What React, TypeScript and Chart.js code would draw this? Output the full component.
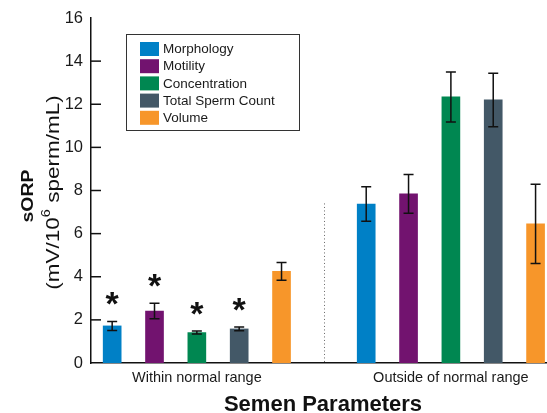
import React, { useEffect, useRef } from "react";
import { Chart, registerables } from "chart.js";

Chart.register(...registerables);

const groupLabels = ["Within normal range", "Outside of normal range"];
const seriesNames = ["Morphology", "Motility", "Concentration", "Total Sperm Count", "Volume"];
const seriesColors = ["#0080C6", "#72136F", "#008751", "#435867", "#F7962A"];

const morphology = [1.72, 7.37];
const motility = [2.41, 7.84];
const concentration = [1.41, 12.34];
const totalSpermCount = [1.58, 12.2];
const volume = [4.25, 6.45];

const morphologyErr = [0.21, 0.8];
const motilityErr = [0.36, 0.9];
const concentrationErr = [0.07, 1.16];
const totalSpermCountErr = [0.09, 1.24];
const volumeErr = [0.41, 1.84];

// asterisk (significant) marks shown on the "within normal range" group
const significant = [true, true, true, true, false];

const yTicks = [0, 2, 4, 6, 8, 10, 12, 14, 16];
const dividerTop = 7.4;

const seriesValues = [morphology, motility, concentration, totalSpermCount, volume];
const seriesErrors = [morphologyErr, motilityErr, concentrationErr, totalSpermCountErr, volumeErr];

const FONT = "'Liberation Sans', Arial, Helvetica, sans-serif";
const GROUP_STRIDE = seriesNames.length + 1;

const extrasPlugin = {
  id: "extras",
  afterDatasetsDraw(chart: any) {
    const { ctx, chartArea } = chart;
    const x = chart.scales.x;
    const y = chart.scales.y;
    ctx.save();
    // error bars + asterisks
    chart.data.datasets.forEach((ds: any, di: number) => {
      const meta = chart.getDatasetMeta(di);
      ds.data.forEach((pt: any, i: number) => {
        const el = meta.data[i];
        const cx = el.x;
        const e = seriesErrors[di][i];
        const yt = y.getPixelForValue(pt.y + e);
        const yb = y.getPixelForValue(pt.y - e);
        ctx.strokeStyle = "#111";
        ctx.lineWidth = 1.5;
        ctx.beginPath();
        ctx.moveTo(cx, yt);
        ctx.lineTo(cx, yb);
        ctx.moveTo(cx - 5, yt);
        ctx.lineTo(cx + 5, yt);
        ctx.moveTo(cx - 5, yb);
        ctx.lineTo(cx + 5, yb);
        ctx.stroke();
        if (i === 0 && significant[di]) {
          const fs = 34;
          ctx.fillStyle = "#111";
          ctx.font = `bold ${fs}px ${FONT}`;
          ctx.textAlign = "center";
          ctx.textBaseline = "alphabetic";
          const centerY = yt - 23;
          ctx.fillText("*", cx, centerY + 0.5 * fs);
        }
      });
    });
    // divider (dotted)
    const dx = Math.round(x.getPixelForValue(seriesNames.length)) + 0.5;
    ctx.strokeStyle = "#666";
    ctx.lineWidth = 1;
    ctx.setLineDash([1, 2.5]);
    ctx.beginPath();
    ctx.moveTo(dx, y.getPixelForValue(dividerTop));
    ctx.lineTo(dx, chartArea.bottom);
    ctx.stroke();
    ctx.setLineDash([]);
    // inward y ticks
    ctx.strokeStyle = "#111";
    ctx.lineWidth = 1.5;
    y.ticks.forEach((t: any) => {
      if (t.value <= 0 || t.value >= 16) return;
      const py = y.getPixelForValue(t.value);
      ctx.beginPath();
      ctx.moveTo(chartArea.left, py);
      ctx.lineTo(chartArea.left + 10, py);
      ctx.stroke();
    });
    // legend box
    const bx = chartArea.left + 35;
    const by = chartArea.top + 16;
    const bw = 173;
    const bh = 96;
    ctx.strokeStyle = "#333";
    ctx.lineWidth = 1;
    ctx.strokeRect(Math.round(bx) + 0.5, Math.round(by) + 0.5, bw, bh);
    ctx.font = `13.5px ${FONT}`;
    ctx.textAlign = "left";
    ctx.textBaseline = "middle";
    seriesNames.forEach((name, i) => {
      const ry = by + 8 + i * 17.2;
      ctx.fillStyle = seriesColors[i];
      ctx.fillRect(bx + 14, ry, 19, 14);
      ctx.fillStyle = "#1a1a1a";
      ctx.fillText(name, bx + 37, ry + 7.5);
    });
    ctx.restore();
  },
  afterDraw(chart: any) {
    const { ctx } = chart;
    ctx.save();
    ctx.fillStyle = "#111";
    // x title
    ctx.font = `bold 22px ${FONT}`;
    ctx.textAlign = "center";
    ctx.textBaseline = "middle";
    ctx.fillText("Semen Parameters", 323, 405);
    // y title line 1
    ctx.save();
    ctx.translate(28, 196);
    ctx.rotate(-Math.PI / 2);
    ctx.scale(1, 0.85);
    ctx.font = `bold 19.5px ${FONT}`;
    ctx.fillText("sORP", 0, 0);
    ctx.restore();
    // y title line 2 with superscript
    ctx.save();
    ctx.translate(53.5, 192.5);
    ctx.rotate(-Math.PI / 2);
    ctx.scale(1, 0.85);
    const mainFont = `22.5px ${FONT}`;
    const supFont = `14.5px ${FONT}`;
    const parts: [string, string, number][] = [
      ["(mV/10", mainFont, 0],
      ["6", supFont, -8],
      [" sperm/mL)", mainFont, 0],
    ];
    let total = 0;
    parts.forEach(([t, f]) => {
      ctx.font = f;
      total += ctx.measureText(t).width;
    });
    let cx = -total / 2;
    ctx.textAlign = "left";
    parts.forEach(([t, f, dy]) => {
      ctx.font = f;
      ctx.fillText(t, cx, dy);
      cx += ctx.measureText(t).width;
    });
    ctx.restore();
    ctx.restore();
  },
};

export default function App() {
  const ref = useRef<HTMLCanvasElement | null>(null);
  useEffect(() => {
    if (!ref.current) return;
    const datasets = seriesNames.map((name, si) => ({
      label: name,
      data: seriesValues[si].map((v, gi) => ({ x: gi * GROUP_STRIDE + si, y: v })),
      backgroundColor: seriesColors[si],
      borderWidth: 0,
      barThickness: 18,
      grouped: false,
    }));
    const chart = new Chart(ref.current, {
      type: "bar",
      data: { datasets },
      plugins: [extrasPlugin],
      options: {
        animation: false,
        responsive: false,
        devicePixelRatio: 1,
        layout: { padding: { top: 18, right: 0, left: 0, bottom: 0 } },
        plugins: { legend: { display: false }, tooltip: { enabled: false } },
        scales: {
          x: {
            type: "linear",
            offset: false,
            min: -0.5,
            max: 10.27,
            grid: { display: false, drawTicks: false },
            border: { display: true, color: "#111", width: 1.5 },
            afterBuildTicks: (scale: any) => {
              scale.ticks = groupLabels.map((_, gi) => ({ value: gi * GROUP_STRIDE + (seriesNames.length - 1) / 2 }));
            },
            afterFit: (scale: any) => {
              scale.height = 50;
            },
            ticks: {
              padding: 6,
              autoSkip: false,
              maxRotation: 0,
              color: "#1a1a1a",
              font: { family: FONT, size: 14.5 },
              callback: (value: any) => {
                const gi = Math.round((Number(value) - (seriesNames.length - 1) / 2) / GROUP_STRIDE);
                return groupLabels[gi] ?? "";
              },
            },
          },
          y: {
            min: 0,
            max: 16,
            afterBuildTicks: (scale: any) => {
              scale.ticks = yTicks.map((v) => ({ value: v }));
            },
            afterFit: (scale: any) => {
              scale.width = 91;
            },
            grid: { display: false, drawTicks: false },
            border: { display: true, color: "#111", width: 1.5 },
            ticks: {
              padding: 8,
              color: "#1a1a1a",
              font: { family: FONT, size: 16.5 },
            },
          },
        },
      },
    } as any);
    return () => chart.destroy();
  }, []);
  return (
    <div style={{ position: "fixed", left: 0, top: 0, width: 547, height: 413, background: "#fff" }}>
      <canvas ref={ref} width={547} height={413} style={{ width: 547, height: 413, display: "block" }} />
    </div>
  );
}
